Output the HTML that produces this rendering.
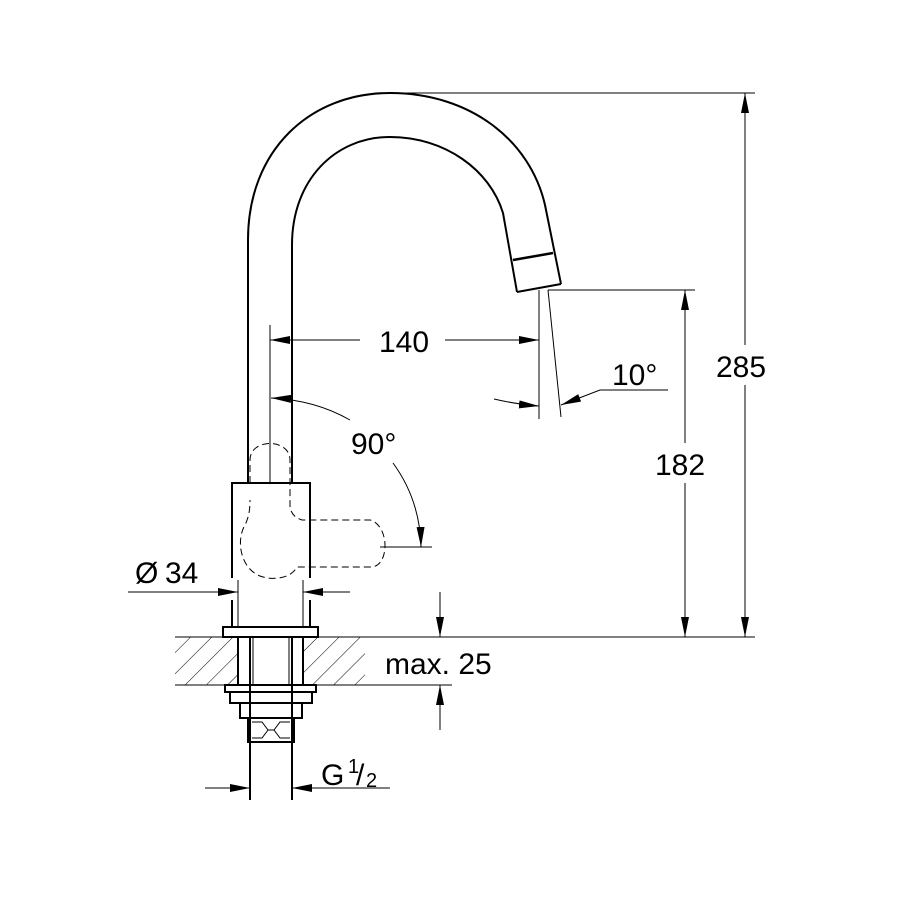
<!DOCTYPE html>
<html><head><style>body{margin:0;background:#fff}svg{display:block}</style></head><body>
<svg width="900" height="900" viewBox="0 0 900 900" xmlns="http://www.w3.org/2000/svg" font-family="Liberation Sans, sans-serif">
<defs>
<marker id="a" viewBox="0 0 20 8" refX="20" refY="4" markerWidth="20" markerHeight="8" orient="auto" markerUnits="userSpaceOnUse"><path d="M0,0 L20,4 L0,8z" fill="#000"/></marker>
<pattern id="h" width="15" height="15" patternUnits="userSpaceOnUse" patternTransform="rotate(45)"><line x1="0" y1="0" x2="0" y2="15" stroke="#000" stroke-width="1"/></pattern>
</defs>
<g fill="none" stroke="#000">
<path d="M248,483 L248,240 C248,150 310,93 390,93 C470,93 530,140 545,205 L561,284" stroke-width="2"/>
<path d="M292,483 L292,245 C292,180 335,137 390,137 C445,137 490,170 503,213 L517,292" stroke-width="2"/>
<line x1="513" y1="260" x2="553" y2="253" stroke-width="2.5"/>
<line x1="517" y1="292" x2="561" y2="284" stroke-width="2"/>
<line x1="270" y1="325" x2="270" y2="483" stroke-width="1"/>
<path d="M232,578 L232,483 L310,483 L310,578" stroke-width="2"/>
<line x1="232" y1="600" x2="232" y2="627" stroke-width="2"/>
<line x1="310" y1="600" x2="310" y2="627" stroke-width="2"/>
<path d="M250,483 L250,460 C250,438 290,438 290,460 L290,508 C292,515 296,518 302,520 L370,520 C390,525 390,568 370,567 L297,567 C290,580 270,580 260,576 C240,568 236,540 245,525 C250,515 250,505 250,500" stroke-width="1" stroke-dasharray="7,4"/>
<rect x="175" y="637" width="63" height="48" fill="url(#h)" stroke="none"/>
<rect x="303" y="637" width="62" height="48" fill="url(#h)" stroke="none"/>
<line x1="175" y1="637" x2="755" y2="637" stroke-width="1"/>
<line x1="175" y1="685" x2="452" y2="685" stroke-width="1"/>
<rect x="223" y="627" width="95" height="10" stroke-width="2" fill="#fff"/>
<rect x="238" y="637" width="65" height="48" stroke-width="2" fill="#fff"/>
<rect x="225" y="685" width="91" height="7" stroke-width="2" fill="#fff"/>
<rect x="230" y="692" width="82" height="11" stroke-width="2" fill="#fff"/>
<rect x="240" y="703" width="62" height="15" stroke-width="2" fill="#fff"/>
<rect x="248" y="718" width="46" height="24" stroke-width="2" fill="#fff"/>
<path d="M252,722 L262,722 L268,730 L262,738 L252,738 M290,722 L280,722 L274,730 L280,738 L290,738 M268,730 L274,730" stroke-width="1"/>
<line x1="250" y1="637" x2="250" y2="800" stroke-width="2"/>
<line x1="253" y1="637" x2="253" y2="685" stroke-width="1"/>
<line x1="292" y1="637" x2="292" y2="800" stroke-width="2"/>
<line x1="289" y1="637" x2="289" y2="685" stroke-width="1"/>
<line x1="238" y1="580" x2="238" y2="627" stroke-width="1"/>
<line x1="303" y1="580" x2="303" y2="627" stroke-width="1"/>
<line x1="128" y1="592" x2="238" y2="592" stroke-width="1" marker-end="url(#a)"/>
<line x1="350" y1="592" x2="303" y2="592" stroke-width="1" marker-end="url(#a)"/>
<line x1="205" y1="788" x2="250" y2="788" stroke-width="1" marker-end="url(#a)"/>
<line x1="390" y1="788" x2="292" y2="788" stroke-width="1" marker-end="url(#a)"/>
<line x1="440" y1="592" x2="440" y2="637" stroke-width="1" marker-end="url(#a)"/>
<line x1="440" y1="730" x2="440" y2="685" stroke-width="1" marker-end="url(#a)"/>
<line x1="390" y1="93" x2="755" y2="93" stroke-width="1"/>
<line x1="745" y1="365" x2="745" y2="93" stroke-width="1" marker-end="url(#a)"/>
<line x1="745" y1="365" x2="745" y2="637" stroke-width="1" marker-end="url(#a)"/>
<line x1="548" y1="290" x2="695" y2="290" stroke-width="1"/>
<line x1="685" y1="465" x2="685" y2="290" stroke-width="1" marker-end="url(#a)"/>
<line x1="685" y1="465" x2="685" y2="637" stroke-width="1" marker-end="url(#a)"/>
<line x1="360" y1="340" x2="270" y2="340" stroke-width="1" marker-end="url(#a)"/>
<line x1="445" y1="340" x2="539" y2="340" stroke-width="1" marker-end="url(#a)"/>
<line x1="539" y1="290" x2="539" y2="419" stroke-width="1"/>
<line x1="548" y1="290" x2="561" y2="417" stroke-width="1"/>
<path d="M494,399 Q515,404 539,406" stroke-width="1" marker-end="url(#a)"/>
<path d="M668,390 L600,390 L561,405" stroke-width="1" marker-end="url(#a)"/>
<path d="M350,420 Q315,400 271,398" stroke-width="1" marker-end="url(#a)"/>
<path d="M393,463 Q420,500 421,547" stroke-width="1" marker-end="url(#a)"/>
<line x1="380" y1="547" x2="432" y2="547" stroke-width="1"/>
</g>
<rect x="713" y="345" width="62" height="40" fill="#fff"/>
<rect x="652" y="443" width="62" height="40" fill="#fff"/>
<g font-size="30" fill="#000">
<text x="404" y="352" text-anchor="middle">140</text>
<text x="612" y="385">10°</text>
<text x="716" y="377">285</text>
<text x="655" y="475">182</text>
<text x="351" y="454">90°</text>
<text x="135" y="583">Ø</text>
<text x="165" y="583">34</text>
<text x="385" y="674">max. 25</text>
<text x="321" y="785">G</text>
<text x="348" y="773" font-size="20">1</text>
<text x="356" y="785">/</text>
<text x="366" y="787" font-size="20">2</text>
</g>
</svg>
</body></html>
